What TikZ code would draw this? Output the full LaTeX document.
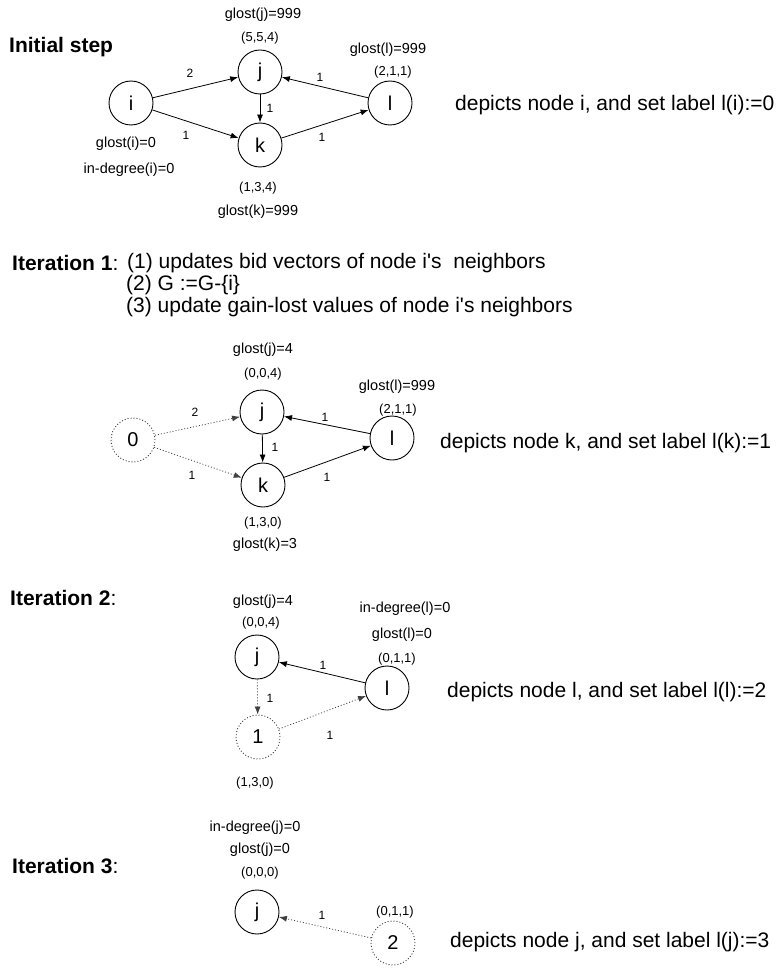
\documentclass[tikz,border=0pt]{standalone}
\usepackage{fontspec}
\setmainfont{Liberation Sans}
\usetikzlibrary{arrows.meta}
\begin{document}
\begin{tikzpicture}[x=1pt,y=-1pt,
  vertex/.style={circle,draw,line width=0.9pt,minimum size=44pt,inner sep=0pt,font=\fontsize{20}{20}\selectfont},
  ghost/.style={vertex,draw=black!75,dash pattern=on 1pt off 2pt},
  val/.style={inner sep=0pt,font=\fontsize{14.5}{16}\selectfont},
  vec/.style={inner sep=0pt,font=\fontsize{13}{14}\selectfont},
  wt/.style={inner sep=0pt,font=\fontsize{12}{13}\selectfont},
  big/.style={inner sep=0pt,anchor=west,font=\fontsize{21}{22}\selectfont},
  arc/.style={line width=0.8pt,-{Latex[length=8pt,width=6pt]}},
  darc/.style={arc,draw=black!75,dash pattern=on 1pt off 2pt},
]
\useasboundingbox (0,0) rectangle (780,968);

% ---------------- initial step ----------------
\node[big] (t0) at (9,47) {\textbf{Initial step}};
\node[vertex] (i0) at (131,103) {i};
\node[vertex] (j0) at (260,72) {j};
\node[vertex] (k0) at (260,145) {k};
\node[vertex] (l0) at (390,103) {l};
\node[val] (gj0) at (263,15) {glost(j)=999};
\node[vec] (vj0) at (260,38) {(5,5,4)};
\node[val] (gl0) at (388,50) {glost(l)=999};
\node[vec] (vl0) at (393,72) {(2,1,1)};
\node[val] (gi0) at (126,144) {glost(i)=0};
\node[val] (di0) at (129,170) {in-degree(i)=0};
\node[vec] (vk0) at (258,188) {(1,3,4)};
\node[val] (gk0) at (258,212) {glost(k)=999};
\draw[arc] (i0) -- (j0);
\draw[arc] (i0) -- (k0);
\draw[arc] (j0) -- (k0);
\draw[arc] (k0) -- (l0);
\draw[arc] (l0) -- (j0);
\node[wt] (w01) at (190,73) {2};
\node[wt] (w02) at (186,135) {1};
\node[wt] (w03) at (270,108) {1};
\node[wt] (w04) at (322,137) {1};
\node[wt] (w05) at (320,77) {1};
\node[big] (d0) at (455,105) {depicts node i, and set label l(i):=0};

% ---------------- iteration 1 ----------------
\node[big] (t1) at (12,263) {\textbf{Iteration 1}:};
\node[big] (s1) at (127,263) {(1) updates bid vectors of node i\textquotesingle s\ \ neighbors};
\node[big] (s2) at (126,285) {(2) G :=G-\{i\}};
\node[big] (s3) at (126,307) {(3) update gain-lost values of node i\textquotesingle s neighbors};

\node[ghost] (z1) at (133,440) {0};
\node[vertex] (j1) at (262,412) {j};
\node[vertex] (k1) at (263,485) {k};
\node[vertex] (l1) at (392,438) {l};
\node[val] (gj1) at (263,350) {glost(j)=4};
\node[vec] (vj1) at (263,374) {(0,0,4)};
\node[val] (gl1) at (397,387) {glost(l)=999};
\node[vec] (vl1) at (398,410) {(2,1,1)};
\node[vec] (vk1) at (263,523) {(1,3,0)};
\node[val] (gk1) at (265,545) {glost(k)=3};
\draw[darc] (z1) -- (j1);
\draw[darc] (z1) -- (k1);
\draw[arc] (j1) -- (k1);
\draw[arc] (k1) -- (l1);
\draw[arc] (l1) -- (j1);
\node[wt] (w11) at (195,412) {2};
\node[wt] (w12) at (192,475) {1};
\node[wt] (w13) at (275,447) {1};
\node[wt] (w14) at (327,477) {1};
\node[wt] (w15) at (325,417) {1};
\node[big] (d1) at (440,443) {depicts node k, and set label l(k):=1};

% ---------------- iteration 2 ----------------
\node[big] (t2) at (10,598) {\textbf{Iteration 2}:};
\node[vertex] (j2) at (257,657) {j};
\node[vertex] (l2) at (387,688) {l};
\node[ghost] (o2) at (258,737) {1};
\node[val] (gj2) at (263,602) {glost(j)=4};
\node[vec] (vj2) at (261,623) {(0,0,4)};
\node[val] (dl2) at (405,609) {in-degree(l)=0};
\node[val] (gl2) at (402,635) {glost(l)=0};
\node[vec] (vl2) at (397,659) {(0,1,1)};
\node[vec] (vo2) at (255,783) {(1,3,0)};
\draw[arc] (l2) -- (j2);
\draw[darc] (j2) -- (o2);
\draw[darc] (o2) -- (l2);
\node[wt] (w21) at (323,665) {1};
\node[wt] (w22) at (270,698) {1};
\node[wt] (w23) at (330,735) {1};
\node[big] (d2) at (447,692) {depicts node l, and set label l(l):=2};

% ---------------- iteration 3 ----------------
\node[big] (t3) at (12,866) {\textbf{Iteration 3}:};
\node[vertex] (j3) at (257,912) {j};
\node[ghost] (t3n) at (393,943) {2};
\node[val] (dj3) at (255,828) {in-degree(j)=0};
\node[val] (gj3) at (260,850) {glost(j)=0};
\node[vec] (vj3) at (260,873) {(0,0,0)};
\node[vec] (vt3) at (395,912) {(0,1,1)};
\draw[darc] (t3n) -- (j3);
\node[wt] (w31) at (322,915) {1};
\node[big] (d3) at (450,942) {depicts node j, and set label l(j):=3};
\end{tikzpicture}
\end{document}
